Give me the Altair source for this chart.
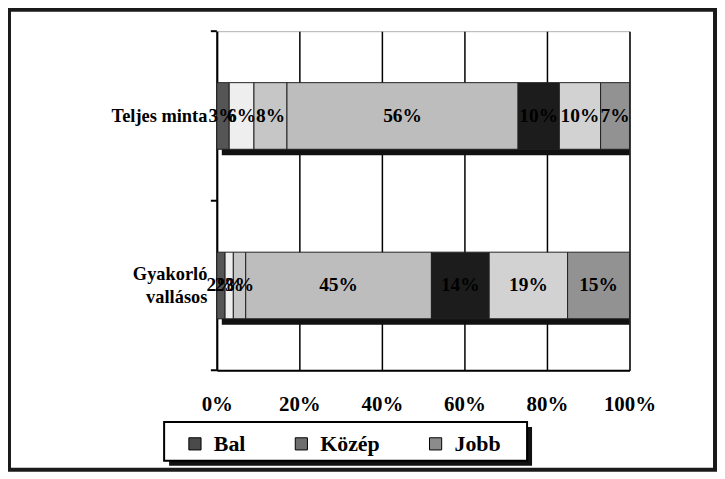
import altair as alt
import pandas as pd

categories = ["Teljes minta", "Gyakorló vallásos"]
segments = ["s1", "s2", "s3", "s4", "s5", "s6", "s7"]
teljes_minta = [3, 6, 8, 56, 10, 10, 7]
gyakorlo_vallasos = [2, 2, 3, 45, 14, 19, 15]
segment_colors = ["#555555", "#eeeeee", "#c6c6c6", "#bdbdbd", "#1c1c1c", "#d2d2d2", "#929292"]
legend_labels = ["Bal", "Közép", "Jobb"]
legend_colors = ["#4a4a4a", "#6e6e6e", "#8c8c8c"]
x_ticks = [0, 20, 40, 60, 80, 100]

rows = []
for cat, vals in zip(categories, [teljes_minta, gyakorlo_vallasos]):
    for i, (seg, v) in enumerate(zip(segments, vals)):
        rows.append({"cat": cat, "seg": seg, "order": i, "value": v})
df = pd.DataFrame(rows)
legend_df = pd.DataFrame({"name": legend_labels})
one = pd.DataFrame({"a": [0]})

FONT = "Liberation Serif"

y_axis = alt.Axis(title=None, ticks=False, domainColor="black", domainWidth=2,
                  labelFont=FONT, labelFontSize=18.5, labelFontWeight="bold",
                  labelColor="black", labelPadding=10, labelLineHeight=24,
                  labelOffset={"condition": {"test": "datum.label == 'Gyakorló vallásos'", "value": -12},
                               "value": 0},
                  labelExpr="datum.label == 'Gyakorló vallásos' ? ['Gyakorló', 'vallásos'] : datum.label")
y_scale = alt.Scale(paddingInner=0, paddingOuter=0)
x_axis = alt.Axis(values=x_ticks, title=None, grid=True, gridColor="black", gridWidth=1.5,
                  ticks=False, tickSize=0, domainColor="black", domainWidth=2, labelFlush=False,
                  labelExpr="datum.value + '%'", labelFont=FONT, labelFontSize=21,
                  labelFontWeight="bold", labelColor="black", labelPadding=23)
x_scale = alt.Scale(domain=[0, 100], nice=False)


def Y():
    return alt.Y("cat:N", sort=categories, scale=y_scale, axis=y_axis)


def X(field):
    return alt.X(field, scale=x_scale, axis=x_axis)


base = alt.Chart(df)
stacked = base.transform_stack(
    as_=["x0", "x1"], stack="value", groupby=["cat"],
    sort=[alt.SortField("order", order="ascending")]
).transform_calculate(mid="(datum.x0 + datum.x1) / 2", label="datum.value + '%'")

shadow = base.transform_aggregate(total="sum(value)", groupby=["cat"]).transform_calculate(zero="0").mark_bar(
    size=67, color="#111111", xOffset=5, yOffset=6
).encode(y=Y(), x=X("zero:Q"), x2="total:Q")

bars = stacked.mark_bar(size=67, stroke="#222222", strokeWidth=1).encode(
    y=Y(),
    x=X("x0:Q"),
    x2="x1:Q",
    fill=alt.Fill("seg:N", scale=alt.Scale(domain=segments, range=segment_colors), legend=None),
)

texts = stacked.mark_text(font=FONT, fontSize=19.5, fontWeight="bold", color="black").encode(
    y=Y(), x=X("mid:Q"), text="label:N"
)

legend_layer = alt.Chart(legend_df).mark_square(opacity=0).encode(
    x=alt.value(0), y=alt.value(0),
    color=alt.Color("name:N", scale=alt.Scale(domain=legend_labels, range=legend_colors),
                    legend=alt.Legend(orient="none", legendX=-33, legendY=404, direction="horizontal",
                                      title=None, symbolType="square", symbolSize=150,
                                      symbolStrokeColor="black", symbolStrokeWidth=1, symbolOpacity=1,
                                      labelFont=FONT, labelFontSize=22, labelFontWeight="bold",
                                      labelColor="black", labelOffset=8, columnPadding=45, padding=0)),
)

deco = alt.Chart(one)
frame = deco.mark_rect(fillOpacity=0, stroke="#1a1a1a", strokeWidth=4).encode(
    x=alt.value(-209), x2=alt.value(501), y=alt.value(-21.5), y2=alt.value(441))
box_shadow = deco.mark_rect(color="#111111").encode(
    x=alt.value(-48), x2=alt.value(317), y=alt.value(398), y2=alt.value(437))
box = deco.mark_rect(fill="white", stroke="black", strokeWidth=2).encode(
    x=alt.value(-53), x2=alt.value(312), y=alt.value(393), y2=alt.value(432))
tick_layers = [deco.mark_rule(color="black", strokeWidth=2).encode(
    x=alt.value(-6), x2=alt.value(0), y=alt.value(v)) for v in (0, 170.5, 341)]

chart = alt.layer(frame, box_shadow, box, shadow, bars, texts, legend_layer, *tick_layers).properties(
    width=415, height=341,
    padding={"left": 210, "top": 22, "right": 88, "bottom": 103},
    autosize=alt.AutoSizeParams(type="none"),
    background="white",
).configure_view(stroke="#b0b0b0", strokeWidth=1)

chart.save("out.html", embed_options={"renderer": "svg", "actions": False})
